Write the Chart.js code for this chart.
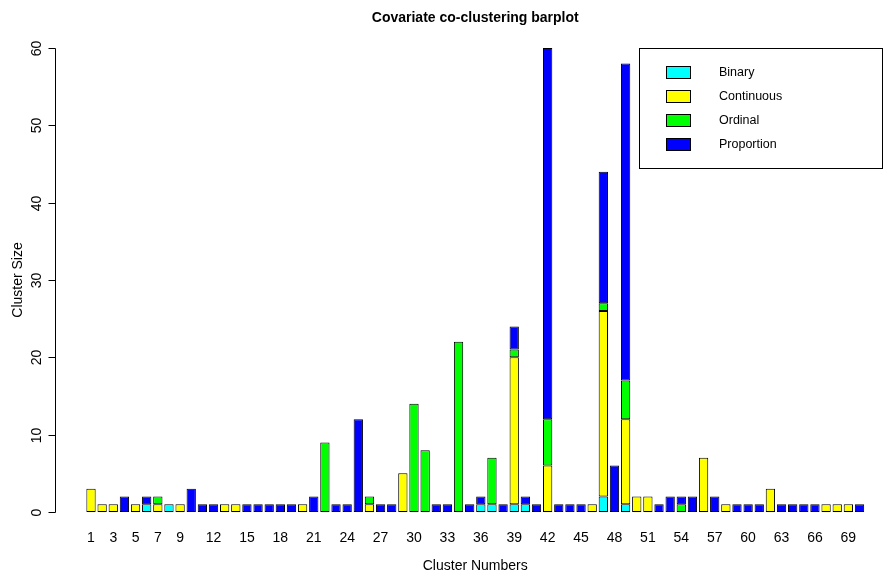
<!DOCTYPE html>
<html>
<head>
<meta charset="utf-8">
<script src="https://cdn.jsdelivr.net/npm/chart.js@4"></script>
<style>
html,body{margin:0;padding:0;background:#fff;}
#wrap{width:885px;height:576px;}
</style>
</head>
<body>
<div id="wrap"><canvas id="c" width="885" height="576"></canvas></div>
<script>
// ---- data ----
const clusters = Array.from({length: 70}, (_, i) => String(i + 1));
const shownTicks = ['1','3','5','7','9','12','15','18','21','24','27','30','33','36','39','42','45','48','51','54','57','60','63','66','69'];
const seriesNames = ['Binary', 'Continuous', 'Ordinal', 'Proportion'];
const seriesColors = ['#00FFFF', '#FFFF00', '#00FF00', '#0000FF'];
const binary = [0,0,0,0,0,1,0,1,0,0, 0,0,0,0,0,0,0,0,0,0, 0,0,0,0,0,0,0,0,0,0, 0,0,0,0,0,1,1,0,1,1, 0,0,0,0,0,0,2,0,1,0, 0,0,0,0,0,0,0,0,0,0, 0,0,0,0,0,0,0,0,0,0];
const continuous = [3,1,1,0,1,0,1,0,1,0, 0,0,1,1,0,0,0,0,0,1, 0,0,0,0,0,1,0,0,5,0, 0,0,0,0,0,0,0,0,19,0, 0,6,0,0,0,1,24,0,11,2, 2,0,0,0,0,7,0,1,0,0, 0,3,0,0,0,0,1,1,1,0];
const ordinal = [0,0,0,0,0,0,1,0,0,0, 0,0,0,0,0,0,0,0,0,0, 0,9,0,0,0,1,0,0,0,14, 8,0,0,22,0,0,6,0,1,0, 0,6,0,0,0,0,1,0,5,0, 0,0,0,1,0,0,0,0,0,0, 0,0,0,0,0,0,0,0,0,0];
const proportion = [0,0,0,2,0,1,0,0,0,3, 1,1,0,0,1,1,1,1,1,0, 2,0,1,1,12,0,1,1,0,0, 0,1,1,0,1,1,0,1,3,1, 1,48,1,1,1,0,17,6,41,0, 0,1,2,1,2,0,2,0,1,1, 1,0,1,1,1,1,0,0,0,1];
const yMin = 0, yMax = 60, yStep = 10;

Chart.defaults.font.family = '"Liberation Sans", Arial, Helvetica, sans-serif';
Chart.defaults.color = '#000';

const seriesValues = [binary, continuous, ordinal, proportion];
const datasets = seriesNames.map((name, i) => ({
  label: name,
  data: seriesValues[i].map(v => v === 0 ? null : v),
  backgroundColor: seriesColors[i],
  borderColor: '#000',
  borderWidth: 1,
  borderSkipped: false,
  categoryPercentage: 1.0,
  barPercentage: 0.835
}));

const axisPlugin = {
  id: 'rAxis',
  afterDraw(chart) {
    const ctx = chart.ctx;
    const ys = chart.scales.y;
    const ax = 55.5;
    ctx.save();
    ctx.strokeStyle = '#000';
    ctx.lineWidth = 1;
    const ticks = ys.ticks;
    const p0 = ys.getPixelForValue(ticks[0].value);
    const p1 = ys.getPixelForValue(ticks[ticks.length - 1].value);
    ctx.beginPath();
    ctx.moveTo(ax, Math.round(p0) + 0.5);
    ctx.lineTo(ax, Math.round(p1) + 0.5);
    ctx.stroke();
    ctx.font = '14px "Liberation Sans", Arial, sans-serif';
    ctx.fillStyle = '#000';
    ctx.textAlign = 'center';
    ctx.textBaseline = 'middle';
    ticks.forEach(t => {
      const py = Math.round(ys.getPixelForValue(t.value)) + 0.5;
      ctx.beginPath();
      ctx.moveTo(ax - 7, py);
      ctx.lineTo(ax, py);
      ctx.stroke();
      ctx.save();
      ctx.translate(37, py);
      ctx.rotate(-Math.PI / 2);
      ctx.fillText(String(t.value), 0, 0);
      ctx.restore();
    });
    ctx.restore();
  }
};

const legendPlugin = {
  id: 'rLegend',
  afterDraw(chart) {
    const ctx = chart.ctx;
    ctx.save();
    ctx.strokeStyle = '#000';
    ctx.lineWidth = 1;
    ctx.strokeRect(639.5, 48.5, 243, 120);
    ctx.font = '12.5px "Liberation Sans", Arial, sans-serif';
    ctx.textAlign = 'left';
    ctx.textBaseline = 'middle';
    chart.data.datasets.forEach((ds, i) => {
      const cy = 73 + i * 24;
      ctx.fillStyle = ds.backgroundColor;
      ctx.fillRect(666.5, cy - 6.5, 24, 12);
      ctx.strokeRect(666.5, cy - 6.5, 24, 12);
      ctx.fillStyle = '#000';
      ctx.fillText(ds.label, 719, cy);
    });
    ctx.restore();
  }
};

new Chart(document.getElementById('c'), {
  type: 'bar',
  data: { labels: clusters, datasets: datasets },
  options: {
    responsive: false,
    animation: false,
    devicePixelRatio: 1,
    layout: { padding: { left: 0, right: 19.93, top: 0, bottom: 0 } },
    plugins: {
      legend: { display: false },
      tooltip: { enabled: false },
      title: {
        display: true,
        text: 'Covariate co-clustering barplot',
        fullSize: false,
        font: { size: 14, weight: 'bold' },
        color: '#000',
        padding: { top: 10, bottom: 21.2 }
      }
    },
    scales: {
      x: {
        stacked: true,
        offset: true,
        grid: { display: false, drawTicks: false },
        border: { display: false },
        ticks: {
          autoSkip: false,
          maxRotation: 0,
          minRotation: 0,
          padding: 18,
          font: { size: 14 },
          color: '#000',
          callback: function(val, idx) {
            const lab = clusters[idx];
            return shownTicks.includes(lab) ? lab : '';
          }
        },
        title: {
          display: true,
          text: 'Cluster Numbers',
          font: { size: 14 },
          color: '#000',
          padding: { top: 0, bottom: 1 }
        },
        afterFit(scale) { scale.height = 64; }
      },
      y: {
        stacked: true,
        min: yMin,
        max: yMax,
        grid: { display: false, drawTicks: false },
        border: { display: false },
        ticks: { display: false, stepSize: yStep },
        title: {
          display: true,
          text: 'Cluster Size',
          font: { size: 14 },
          color: '#000',
          padding: { top: 10, bottom: 0 }
        },
        afterFit(scale) { scale.width = 85.43; }
      }
    }
  },
  plugins: [axisPlugin, legendPlugin]
});
</script>
</body>
</html>
